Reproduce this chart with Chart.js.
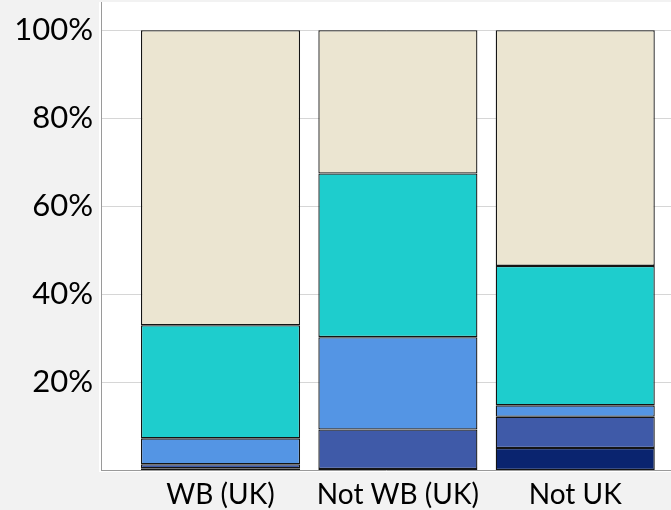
<!DOCTYPE html>
<html>
<head>
<meta charset="utf-8">
<script src="https://cdn.jsdelivr.net/npm/chart.js@4"></script>
<style>
  html, body { margin: 0; padding: 0; background: #f2f2f2; }
  #wrap { width: 671px; height: 510px; }
</style>
</head>
<body>
<div id="wrap"><canvas id="chart" width="671" height="510"></canvas></div>
<script>
const categories = ["WB (UK)", "Not WB (UK)", "Not UK"];
const yTicks = [20, 40, 60, 80, 100];

// stacked shares in %, bottom segment first
const navy = [0.4, 0.2, 5.0];
const darkBlue = [0.9, 9.0, 7.1];
const lightBlue = [5.9, 21.0, 2.6];
const teal = [25.7, 37.2, 31.7];
const beige = [67.1, 32.6, 53.6];

const seriesColors = ["#0a246f", "#3f5aa8", "#5495e4", "#1ecdcd", "#ebe5d1"];
const seriesValues = [navy, darkBlue, lightBlue, teal, beige];

function toPoints(values) {
    return values.map((v, i) => ({ x: i + 1, y: v }));
}

const datasets = seriesValues.map((vals, i) => ({
    data: toPoints(vals),
    backgroundColor: seriesColors[i],
    borderColor: "#141414",
    borderWidth: 1.3,
    borderSkipped: false,
    categoryPercentage: 1,
    barPercentage: 0.897,
}));

// white plot area on grey page
const plotBackground = {
    id: "plotBackground",
    beforeDraw(chart) {
        const { ctx, chartArea } = chart;
        ctx.save();
        ctx.fillStyle = "#ffffff";
        ctx.fillRect(chartArea.left - 2, chartArea.top, chartArea.right - chartArea.left + 2, chartArea.bottom - chartArea.top + 2);
        ctx.restore();
    },
};

const ctx = document.getElementById("chart").getContext("2d");

new Chart(ctx, {
    type: "bar",
    data: { datasets: datasets },
    plugins: [plotBackground],
    options: {
        responsive: false,
        animation: false,
        layout: { padding: { top: 2, right: 0, left: 0, bottom: 0 } },
        plugins: {
            legend: { display: false },
            tooltip: { enabled: false },
        },
        scales: {
            x: {
                type: "linear",
                stacked: true,
                offset: false,
                min: 0.326,
                max: 3.54,
                afterBuildTicks(scale) {
                    scale.ticks = categories.map((c, i) => ({ value: i + 1 }));
                },
                afterFit(scale) {
                    scale.height = 40;
                    scale.paddingLeft = 0;
                    scale.paddingRight = 0;
                },
                grid: { display: false, offset: false },
                border: { display: true, color: "#9a9a9a", width: 1 },
                ticks: {
                    color: "#000",
                    padding: 0,
                    maxRotation: 0,
                    autoSkip: false,
                    font: { family: "Lato", size: 28 },
                    callback: (v) => categories[v - 1],
                },
            },
            y: {
                stacked: true,
                min: 0,
                max: 106.4,
                afterBuildTicks(scale) {
                    scale.ticks = yTicks.map((v) => ({ value: v }));
                },
                afterFit(scale) {
                    scale.width = 101;
                    scale.paddingTop = 0;
                    scale.paddingBottom = 0;
                },
                grid: { color: "#d6d6d6", lineWidth: 1, drawTicks: false },
                border: { display: true, color: "#9a9a9a", width: 1 },
                ticks: {
                    color: "#000",
                    padding: 8,
                    font: { family: "Lato", size: 31 },
                    callback: (v) => v + "%",
                },
            },
        },
    },
});
</script>
</body>
</html>
